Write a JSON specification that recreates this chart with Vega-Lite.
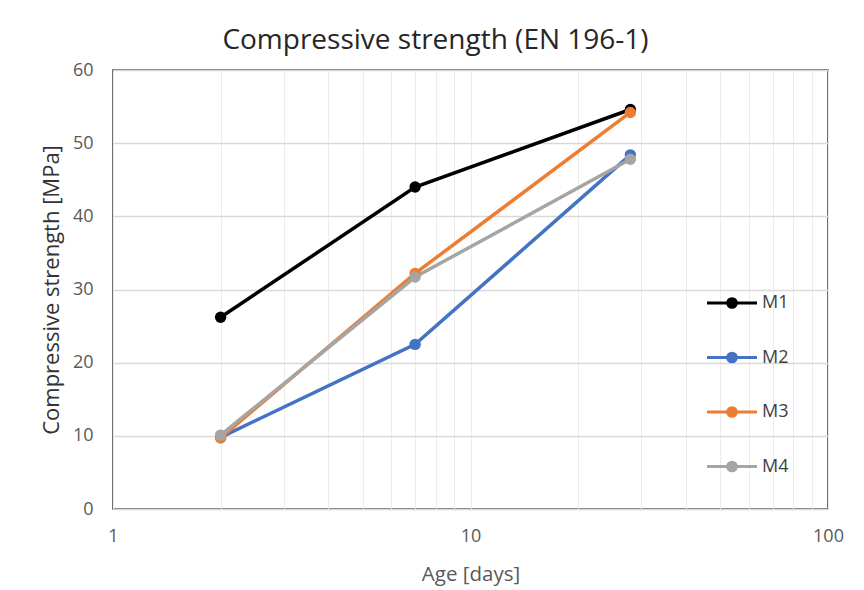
{
  "$schema": "https://vega.github.io/schema/vega-lite/v6.json",
  "autosize": "none",
  "width": 715,
  "height": 439,
  "padding": {"left": 113, "top": 70, "right": 36, "bottom": 81},
  "background": "white",
  "config": {
    "font": "Open Sans",
    "view": {"stroke": "#404040", "strokeWidth": 1.5}
  },
  "title": {
    "text": "Compressive strength (EN 196-1)",
    "fontSize": 28,
    "fontWeight": "normal",
    "color": "#262626",
    "anchor": "middle",
    "dx": -35,
    "offset": 6
  },
  "data": {
    "values": [
      {"mix": "M1", "age": 2, "strength": 26.2},
      {"mix": "M1", "age": 7, "strength": 44.0},
      {"mix": "M1", "age": 28, "strength": 54.6},
      {"mix": "M2", "age": 2, "strength": 9.8},
      {"mix": "M2", "age": 7, "strength": 22.5},
      {"mix": "M2", "age": 28, "strength": 48.4},
      {"mix": "M3", "age": 2, "strength": 9.7},
      {"mix": "M3", "age": 7, "strength": 32.2},
      {"mix": "M3", "age": 28, "strength": 54.2},
      {"mix": "M4", "age": 2, "strength": 10.1},
      {"mix": "M4", "age": 7, "strength": 31.7},
      {"mix": "M4", "age": 28, "strength": 47.8}
    ]
  },
  "mark": {"type": "line", "strokeWidth": 3.5, "point": {"size": 130, "filled": true, "opacity": 1}},
  "encoding": {
    "x": {
      "field": "age",
      "type": "quantitative",
      "title": "Age [days]",
      "scale": {"type": "log", "domain": [1, 100], "nice": false},
      "axis": {
        "values": [1, 2, 3, 4, 5, 6, 7, 8, 9, 10, 20, 30, 40, 50, 60, 70, 80, 90, 100],
        "labelExpr": "datum.value == 1 || datum.value == 10 || datum.value == 100 ? datum.value : ''",
        "grid": true,
        "gridColor": "#ececec",
        "gridWidth": 1,
        "ticks": false,
        "domain": false,
        "labelFontSize": 18,
        "labelColor": "#595959",
        "labelPadding": 18,
        "labelFlush": false,
        "titleFontSize": 20.5,
        "titleFontWeight": "normal",
        "titleColor": "#595959",
        "titlePadding": 19
      }
    },
    "y": {
      "field": "strength",
      "type": "quantitative",
      "title": "Compressive strength [MPa]",
      "scale": {"domain": [0, 60], "nice": false},
      "axis": {
        "values": [0, 10, 20, 30, 40, 50, 60],
        "grid": true,
        "gridColor": "#d9d9d9",
        "gridWidth": 1.5,
        "ticks": false,
        "domain": false,
        "labelFontSize": 18,
        "labelColor": "#595959",
        "labelPadding": 20,
        "titleFontSize": 22,
        "titleFontWeight": "normal",
        "titleColor": "#333333",
        "titlePadding": 9
      }
    },
    "color": {
      "field": "mix",
      "type": "nominal",
      "scale": {"domain": ["M1", "M2", "M3", "M4"], "range": ["#000000", "#4472c4", "#ed7d31", "#a5a5a5"]},
      "legend": {
        "title": null,
        "orient": "none",
        "legendX": 592,
        "legendY": 206,
        "padding": 0,
        "symbolType": "M-1,0H1M-0.17,0A0.17,0.17 0 1,0 0.17,0A0.17,0.17 0 1,0 -0.17,0",
        "symbolSize": 2500,
        "symbolStrokeWidth": 3.2,
        "rowPadding": 16.5,
        "labelOffset": 3,
        "labelFontSize": 18,
        "labelColor": "#404040",
        "encode": {
          "symbols": {"update": {"fill": {"scale": "color", "field": "value"}, "opacity": {"value": 1}}}
        }
      }
    }
  }
}
